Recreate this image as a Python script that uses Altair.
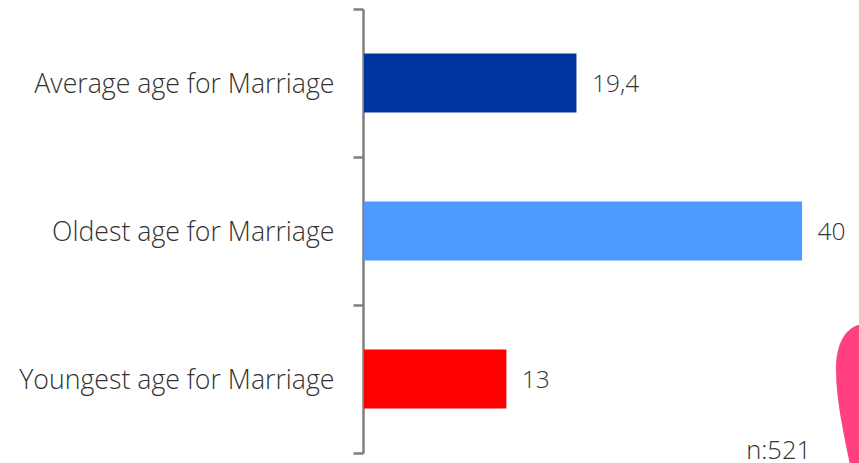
import altair as alt
import pandas as pd

categories = ["Average age for Marriage", "Oldest age for Marriage", "Youngest age for Marriage"]
ages = [19.4, 40, 13]
age_labels = ["19,4", "40", "13"]
bar_colors = ["#00349E", "#4D9BFF", "#FF0000"]
sample_note = ["n:521"]

FONT = "Open Sans"
INK = "#333333"

# Decorative pink shape running off the right edge, relative to its anchor point
BLOB_PATH = "M 22 -45 C 8 -40 0 -25 0 0 C 0 30 8 65 14 95 L 30 95 L 30 -45 Z"

df = pd.DataFrame({"category": categories, "age": ages, "label": age_labels, "color": bar_colors})

y_enc = alt.Y(
    "category:N",
    sort=categories,
    scale=alt.Scale(padding=0),
    axis=alt.Axis(
        title=None,
        offset=1,
        tickBand="extent",
        tickSize=10,
        tickWidth=2.5,
        tickColor="#7F7F7F",
        domainColor="#7F7F7F",
        domainWidth=2.5,
        labelFont=FONT,
        labelFontWeight=300,
        labelFontSize=26.7,
        labelColor=INK,
        labelPadding=19,
        labelLimit=340,
        labelOffset=1,
        grid=False,
    ),
)
x_enc = alt.X(
    "age:Q",
    scale=alt.Scale(domain=[0, 45.2], nice=False, zero=True),
    axis=None,
)

bars = alt.Chart(df).mark_bar(cornerRadius=0, height=59).encode(
    y=y_enc, x=x_enc, color=alt.Color("color:N", scale=None, legend=None)
)
values = alt.Chart(df).mark_text(
    align="left", baseline="middle", dx=15.5, dy=2, font=FONT, fontWeight=300, fontSize=24.5, color=INK
).encode(y=alt.Y("category:N", sort=categories), x="age:Q", text="label:N")

note = alt.Chart(pd.DataFrame({"t": sample_note})).mark_text(
    align="right", baseline="alphabetic", font=FONT, fontWeight=300, fontSize=25.5, color=INK
).encode(x=alt.value(447), y=alt.value(450), text="t:N")

blob = alt.Chart(pd.DataFrame({"k": ["blob"]})).mark_point(
    shape=BLOB_PATH, size=4, filled=True, opacity=1, color="#FF4081", strokeWidth=0
).encode(x=alt.value(472), y=alt.value(361))

chart = (
    alt.layer(blob, bars, values, note)
    .properties(
        width=495,
        height=444,
        padding={"left": 364, "top": 9, "right": 0, "bottom": 10},
        autosize=alt.AutoSizeParams(type="none"),
        background="#FFFFFF",
    )
    .configure_view(stroke=None)
)

chart.save("out.html", embed_options={"renderer": "svg", "actions": False})
